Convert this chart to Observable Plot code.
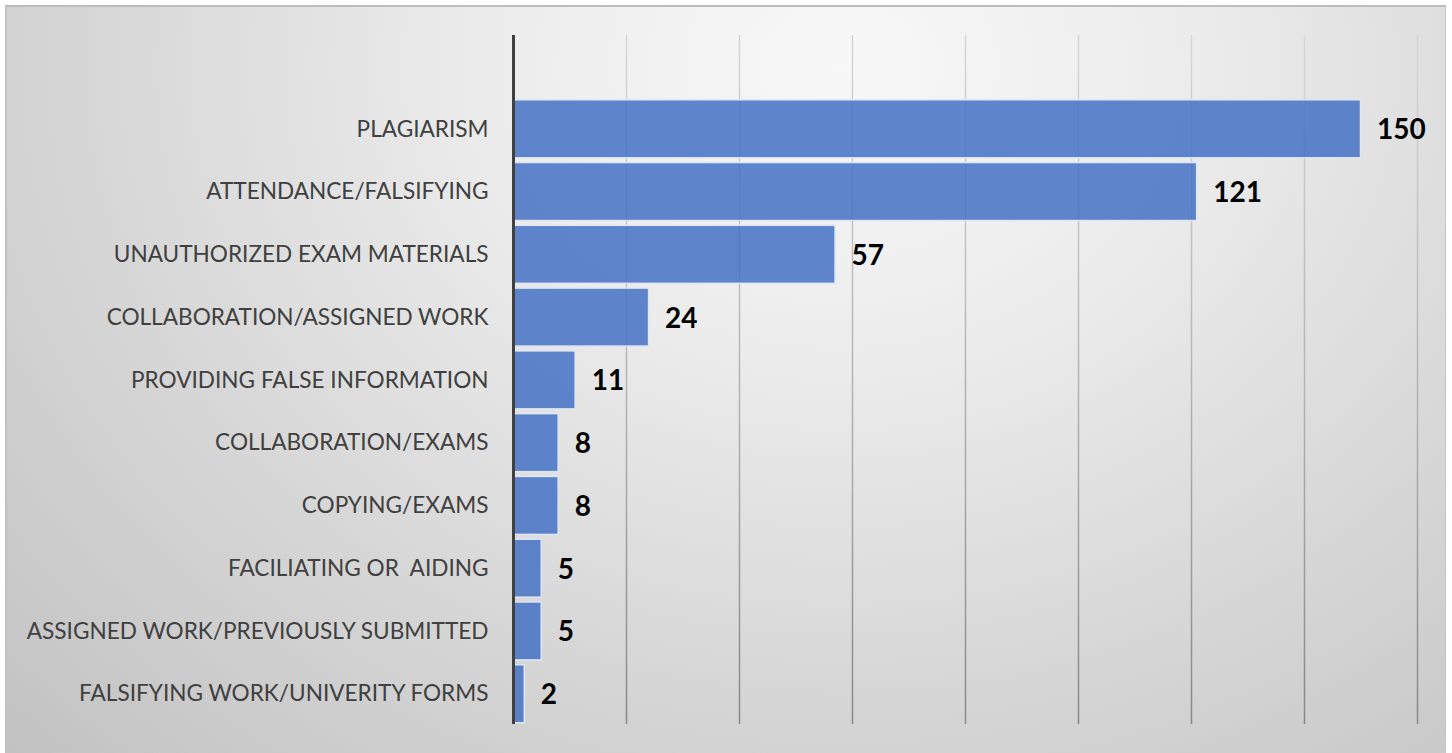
<!DOCTYPE html>
<html>
<head>
<meta charset="utf-8">
<script src="https://cdn.jsdelivr.net/npm/d3@7"></script>
<script src="https://cdn.jsdelivr.net/npm/@observablehq/plot@0.6"></script>
<style>
  html, body { margin: 0; padding: 0; width: 1452px; height: 753px; overflow: hidden; background: #fff; }
  #frame {
    position: absolute; left: 5px; top: 5px; width: 1441px; height: 752px;
    box-sizing: border-box;
    border-top: 2px solid #bdbdbd; border-left: 2px solid #c2c2c2; border-right: 1px solid #c4c4c4;
    background: radial-gradient(ellipse farthest-corner at 58% 8%, #f8f8f8 0%, #ececec 30%, #d6d6d6 65%, #c2c2c2 100%);
  }
  #chart { position: absolute; left: 0; top: 0; }
</style>
</head>
<body>
<div id="frame"></div>
<div id="chart"></div>
<script>
const categories = [
  "PLAGIARISM",
  "ATTENDANCE/FALSIFYING",
  "UNAUTHORIZED EXAM MATERIALS",
  "COLLABORATION/ASSIGNED WORK",
  "PROVIDING FALSE INFORMATION",
  "COLLABORATION/EXAMS",
  "COPYING/EXAMS",
  "FACILIATING OR  AIDING",
  "ASSIGNED WORK/PREVIOUSLY SUBMITTED",
  "FALSIFYING WORK/UNIVERITY FORMS"
];
const counts = [150, 121, 57, 24, 11, 8, 8, 5, 5, 2];
const gridTicks = [20, 40, 60, 80, 100, 120, 140, 160];

const data = categories.map((c, i) => ({category: c, count: counts[i]}));

const chart = Plot.plot({
  width: 1452,
  height: 753,
  marginLeft: 513,
  marginRight: 35,
  marginTop: 35,
  marginBottom: 29,
  style: {background: "transparent", fontFamily: "Lato, sans-serif", overflow: "visible"},
  x: {domain: [0, 160], axis: null},
  y: {domain: categories, range: [95, 727.5], padding: 0.076, round: false, label: null},
  marks: [
    Plot.ruleX(gridTicks, {stroke: "url(#gridGrad)", strokeWidth: 1.5}),
    Plot.barX(data, {
      x: "count", y: "category",
      fill: "#4472c4", fillOpacity: 0.85,
      stroke: "#dfe7f5", strokeWidth: 1.5
    }),
    Plot.text(data, {
      x: "count", y: "category", text: d => String(d.count),
      dx: 16, dy: 1, textAnchor: "start", fontSize: 28, fontWeight: "bold", fill: "#000"
    }),
    Plot.axisY({tickSize: 0, tickPadding: 25, fontSize: 22.6, fill: "#404040", label: null}),
    Plot.ruleX([0], {stroke: "#404040", strokeWidth: 3})
  ]
});

// gradient for gridlines (lighter at top, darker at bottom)
const ns = "http://www.w3.org/2000/svg";
const defs = document.createElementNS(ns, "defs");
const lg = document.createElementNS(ns, "linearGradient");
lg.setAttribute("id", "gridGrad");
lg.setAttribute("gradientUnits", "userSpaceOnUse");
lg.setAttribute("x1", "0"); lg.setAttribute("x2", "0");
lg.setAttribute("y1", "35"); lg.setAttribute("y2", "724");
[["0%", "#d6d6d6"], ["50%", "#b4b4b4"], ["100%", "#888888"]].forEach(([o, c]) => {
  const s = document.createElementNS(ns, "stop");
  s.setAttribute("offset", o); s.setAttribute("stop-color", c);
  lg.appendChild(s);
});
defs.appendChild(lg);
chart.insertBefore(defs, chart.firstChild);

document.getElementById("chart").appendChild(chart);
</script>
</body>
</html>
